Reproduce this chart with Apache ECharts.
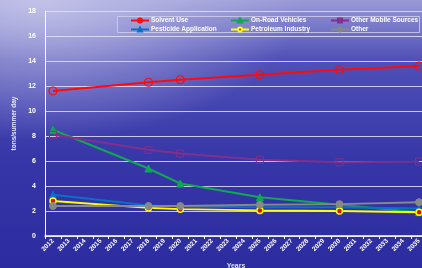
<!DOCTYPE html>
<html>
<head>
<meta charset="utf-8">
<script src="https://cdn.jsdelivr.net/npm/echarts@6/dist/echarts.min.js"></script>
<style>
  html, body { margin: 0; padding: 0; }
  body {
    width: 422px; height: 268px; overflow: hidden;
    background:
      radial-gradient(ellipse 260px 140px at 10% 0%, rgba(200,200,235,0.85), rgba(200,200,235,0) 100%),
      linear-gradient(180deg, #9a9ad8 0%, #5050b8 22%, #3636a8 60%, #2c2ca0 100%);
  }
  #chart { width: 422px; height: 268px; }
</style>
</head>
<body>
<div id="chart"></div>
<script>
    // years on the axis
    const years = [];
    for (let y = 2012; y <= 2035; y++) years.push(String(y));

    // values only at 2012, 2018, 2020, 2025, 2030, 2035 (tons/summer day)
    const dataYears = ['2012', '2018', '2020', '2025', '2030', '2035'];
    const solventUse   = [11.6, 12.3, 12.5, 12.9, 13.3, 13.6];
    const onRoad       = [8.5, 5.4, 4.2, 3.1, 2.5, 1.9];
    const otherMobile  = [8.1, 6.9, 6.6, 6.1, 5.9, 5.95];
    const pesticide    = [3.3, 2.45, 2.35, 2.3, 2.3, 2.2];
    const petroleum    = [2.8, 2.25, 2.15, 2.05, 2.0, 1.9];
    const other        = [2.4, 2.4, 2.4, 2.5, 2.55, 2.7];

    const yTicks = [0, 2, 4, 6, 8, 10, 12, 14, 16, 18];

    // spread the sparse values over the year axis
    function spread(vals) {
        return years.map(function (y) {
            const i = dataYears.indexOf(y);
            return i < 0 ? null : vals[i];
        });
    }

    function line(name, vals, color, symbol, size, extra) {
        const s = {
            name: name,
            type: 'line',
            data: spread(vals),
            connectNulls: true,
            symbol: symbol,
            symbolSize: size,
            lineStyle: { color: color, width: 2 },
            itemStyle: { color: color, borderColor: color, borderWidth: 1 },
            emphasis: { disabled: true }
        };
        return Object.assign(s, extra || {});
    }

    // one legend per column
    function legendCol(left, names) {
        return {
            left: left, top: 17,
            orient: 'vertical',
            itemGap: 2,
            itemWidth: 18, itemHeight: 5,
            padding: 0,
            textStyle: { color: '#ffffff', fontSize: 6.5, fontWeight: 'bold', padding: [0, 0, 0, -3] },
            data: names
        };
    }

    const chart = echarts.init(document.getElementById('chart'));

    chart.setOption({
        backgroundColor: 'transparent',
        animation: false,
        textStyle: { fontFamily: 'Liberation Sans, Arial, sans-serif' },
        graphic: [{
            type: 'rect',
            shape: { x: 117.5, y: 16.5, width: 302, height: 16 },
            style: { fill: 'rgba(120,120,200,0.15)', stroke: 'rgba(210,210,240,0.8)', lineWidth: 1 },
            z: 0
        }],
        legend: [
            legendCol(130, ['Solvent Use', 'Pesticide Application']),
            legendCol(230, ['On-Road Vehicles', 'Petroleum Industry']),
            legendCol(330, ['Other Mobile Sources', 'Other'])
        ],
        grid: { left: 45, right: -5, top: 11, bottom: 32, containLabel: false, outerBoundsMode: 'none' },
        xAxis: {
            type: 'category',
            data: years,
            boundaryGap: true,
            name: 'Years',
            nameLocation: 'middle',
            nameGap: 27,
            nameTextStyle: { color: '#e0e0f0', fontSize: 7, fontWeight: 'bold' },
            axisLine: { lineStyle: { color: '#ffffff', width: 1.5 } },
            axisTick: { show: true, alignWithLabel: false, length: 3, lineStyle: { color: '#ffffff' } },
            axisLabel: {
                interval: 0, rotate: 45, margin: 4,
                color: '#ffffff', fontSize: 6.5, fontWeight: 'bold'
            },
            splitLine: { show: false }
        },
        yAxis: {
            type: 'value',
            min: 0, max: 18, interval: 2,
            name: 'tons/summer day',
            nameLocation: 'middle',
            nameGap: 19,
            nameRotate: 90,
            nameTextStyle: { color: '#e8e8f8', fontSize: 6.5, fontWeight: 'bold' },
            axisLine: { show: true, lineStyle: { color: '#ffffff', width: 1 } },
            axisTick: { show: false },
            axisLabel: {
                color: '#ffffff', fontSize: 7, fontWeight: 'bold', margin: 9,
                formatter: function (v) { return yTicks.indexOf(v) >= 0 ? String(v) : ''; }
            },
            splitLine: { lineStyle: { color: 'rgba(225,225,245,0.85)', width: 1 } }
        },
        series: [
            line('Solvent Use', solventUse, '#ff0a0a', 'circle', 8, {
                itemStyle: { color: 'rgba(0,0,0,0)', borderColor: '#ff0a0a', borderWidth: 1.2 }
            }),
            line('On-Road Vehicles', onRoad, '#10a850', 'triangle', 7),
            line('Other Mobile Sources', otherMobile, '#80308c', 'rect', 7, {
                itemStyle: { color: 'rgba(0,0,0,0)', borderColor: '#80308c', borderWidth: 1 }
            }),
            line('Pesticide Application', pesticide, '#0a70c8', 'triangle', 7),
            line('Petroleum Industry', petroleum, '#ffff00', 'circle', 6, {
                itemStyle: { color: '#e01010', borderColor: '#ffff00', borderWidth: 1.5 }
            }),
            line('Other', other, '#888888', 'circle', 7)
        ]
    });
</script>
</body>
</html>
